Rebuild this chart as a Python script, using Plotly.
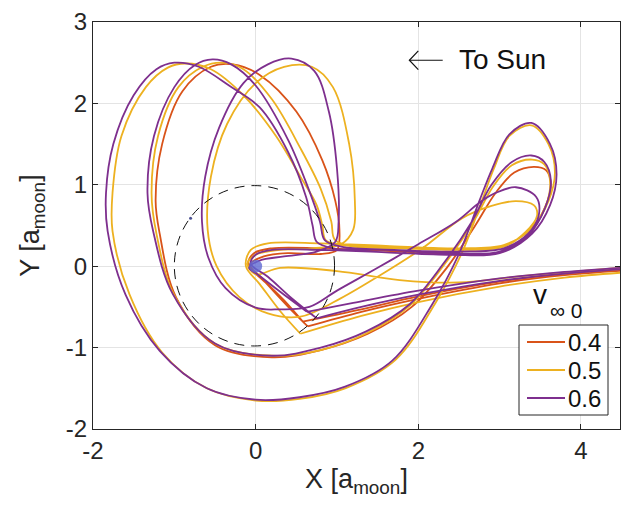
import plotly.graph_objects as go

# v_inf0 = 0.4 trajectory (None marks a sharp corner between smooth strokes)
x_v04 = [4.62, 3.8, 3.0, 2.0, 1.3, 0.64, None,
         0.64, 0.4, 0.12, -0.09, -0.02, 0.2, 0.8, 1.6, 2.4, 3.0, 3.33, 3.55, 3.63, 3.57, 3.42, 3.18,
         2.95, 2.7, 2.35, 1.92, 1.38, 0.8, 0.2, -0.5, -0.98, -1.18, -1.23, -1.15, -0.9, -0.55, -0.28,
         0.05, 0.5, 0.82, 0.98, 1.03, 1.0, 0.8, 0.4, 0.1, -0.07, 0.08, 0.35, 0.58, None,
         0.58, 1.3, 2.0, 3.0, 3.8, 4.62]
y_v04 = [-0.05, -0.11, -0.21, -0.4, -0.56, -0.74, None,
         -0.74, -0.5, -0.2, 0.02, 0.16, 0.22, 0.22, 0.19, 0.15, 0.17, 0.36, 0.7, 1.0, 1.18, 1.22, 1.15,
         0.9, 0.5, -0.02, -0.5, -0.83, -1.03, -1.12, -0.97, -0.38, 0.4, 0.8, 1.5, 2.15, 2.45, 2.48,
         2.35, 1.9, 1.3, 0.8, 0.45, 0.2, 0.15, 0.16, 0.12, 0.02, -0.15, -0.42, -0.68, None,
         -0.68, -0.53, -0.37, -0.19, -0.09, -0.03]

# v_inf0 = 0.5 trajectory
x_v05 = [4.62, 3.8, 3.0, 2.0, 1.3, 0.55, None,
         0.55, 0.3, 0.05, -0.12, -0.06, 0.15, 0.8, 1.6, 2.4, 3.0, 3.38, 3.6, 3.68, 3.6, 3.39, 3.12,
         2.93, 2.78, 2.53, 2.2, 1.72, 1.1, 0.54, 0.0, -0.6, -1.15, -1.55, -1.76, -1.76, -1.65, -1.35,
         -1.08, -0.86, -0.55, -0.15, 0.25, 0.55, 0.75, 0.82, 0.86, 1.05, 1.7, 2.5, 3.05, 3.37, 3.57,
         3.62, 3.55, 3.4, 3.15, 2.92, 2.68, 2.32, 1.9, 1.37, 0.8, 0.2, -0.5, -1.0, -1.22, -1.28, -1.2,
         -0.95, -0.65, -0.4, -0.15, 0.2, 0.55, 0.8, 0.93, 0.97, 1.15, 1.8, 2.5, 3.05, 3.32, 3.46,
         3.42, 3.2, 2.9, 2.54, 2.05, 1.5, 1.0, 0.55, 0.15, -0.2, -0.48, -0.59, -0.55, -0.35, 0.0,
         0.35, 0.69, 0.95, 1.15, 1.22, 1.2, 1.05, 0.7, 0.3, 0.0, -0.1, 0.0, 0.3, 1.0, 1.77, 2.5,
         3.3, 4.62]
y_v05 = [-0.07, -0.14, -0.25, -0.44, -0.61, -0.83, None,
         -0.83, -0.55, -0.22, 0.0, 0.2, 0.28, 0.28, 0.25, 0.22, 0.24, 0.45, 0.8, 1.15, 1.5, 1.73, 1.6,
         1.2, 0.8, 0.15, -0.47, -1.15, -1.5, -1.63, -1.65, -1.5, -1.06, -0.35, 0.43, 0.9, 1.6, 2.2,
         2.44, 2.49, 2.42, 2.1, 1.6, 1.1, 0.75, 0.5, 0.32, 0.26, 0.24, 0.22, 0.26, 0.45, 0.75,
         1.05, 1.25, 1.31, 1.24, 0.98, 0.55, 0.02, -0.48, -0.82, -1.03, -1.1, -0.95, -0.36, 0.4, 0.9, 1.6,
         2.2, 2.45, 2.5, 2.42, 2.05, 1.45, 0.95, 0.55, 0.33, 0.25, 0.22, 0.2, 0.24, 0.42, 0.62,
         0.75, 0.8, 0.74, 0.59, 0.22, -0.13, -0.42, -0.62, -0.58, -0.38, 0.0, 0.45, 1.1, 1.75, 2.25,
         2.45, 2.45, 2.2, 1.5, 0.8, 0.45, 0.27, 0.22, 0.2, 0.14, 0.03, -0.1, -0.02, -0.06, -0.17, -0.2,
         -0.12, -0.01]

# v_inf0 = 0.6 trajectory
x_v06 = [4.62, 3.8, 3.0, 2.0, 1.3, 0.75, None,
         0.75, 0.45, 0.15, -0.06, 0.0, 0.2, 0.8, 1.6, 2.4, 3.0, 3.4, 3.62, 3.7, 3.62, 3.39, 3.12,
         2.91, 2.75, 2.5, 2.17, 1.68, 1.1, 0.54, 0.0, -0.6, -1.18, -1.6, -1.82, -1.84, -1.75, -1.5,
         -1.22, -1.0, -0.7, -0.3, 0.05, 0.4, 0.62, 0.7, 0.75, 0.95, 1.6, 2.4, 3.0, 3.35, 3.56, 3.63,
         3.55, 3.39, 3.15, 2.9, 2.66, 2.3, 1.89, 1.36, 0.8, 0.2, -0.5, -1.02, -1.26, -1.33, -1.25,
         -1.0, -0.75, -0.53, -0.3, 0.0, 0.4, 0.65, 0.79, 0.85, 1.05, 1.7, 2.5, 3.05, 3.35, 3.48,
         3.45, 3.2, 2.95, 2.75, 2.47, 2.0, 1.5, 1.0, 0.66, 0.3, 0.0, -0.37, -0.58, -0.66, -0.62,
         -0.45, -0.15, 0.15, 0.44, 0.72, 0.9, 1.0, 1.02, 0.98, 0.75, 0.35, 0.05, -0.08, 0.05, 0.35,
         0.63, None,
         0.63, 1.2, 2.0, 3.0, 3.8, 4.62]
y_v06 = [-0.03, -0.09, -0.18, -0.35, -0.5, -0.64, None,
         -0.64, -0.4, -0.13, 0.03, 0.14, 0.2, 0.2, 0.17, 0.14, 0.16, 0.4, 0.75, 1.13, 1.5, 1.76, 1.62,
         1.2, 0.8, 0.15, -0.47, -1.16, -1.48, -1.61, -1.64, -1.5, -1.04, -0.35, 0.43, 0.9, 1.5, 2.1,
         2.42, 2.5, 2.45, 2.2, 1.95, 1.4, 0.85, 0.5, 0.3, 0.22, 0.2, 0.16, 0.18, 0.38, 0.72, 1.05,
         1.28, 1.36, 1.28, 1.0, 0.55, 0.02, -0.47, -0.8, -1.0, -1.1, -0.95, -0.34, 0.43, 0.9, 1.6,
         2.2, 2.47, 2.54, 2.48, 2.22, 1.55, 0.95, 0.55, 0.32, 0.24, 0.2, 0.18, 0.22, 0.4, 0.62,
         0.85, 0.97, 0.9, 0.78, 0.55, 0.27, -0.02, -0.3, -0.5, -0.53, -0.51, -0.27, 0.1, 0.55, 1.1,
         1.7, 2.25, 2.48, 2.55, 2.4, 1.9, 1.2, 0.55, 0.3, 0.18, 0.12, 0.07, -0.02, -0.12, -0.35,
         -0.56, None,
         -0.56, -0.45, -0.3, -0.15, -0.07, -0.01]

series = [
    ("0.4", x_v04, y_v04, "#D95319"),
    ("0.5", x_v05, y_v05, "#EDB120"),
    ("0.6", x_v06, y_v06, "#7E2F8E"),
]

x_ticks = [-2, 0, 2, 4]
x_tick_text = ["-2", "0", "2", "4"]
y_ticks = [-2, -1, 0, 1, 2, 3]
y_tick_text = ["-2", "-1", "0", "1", "2", "3"]

moon_x, moon_y = [0.0], [0.0]
speck_x, speck_y = [-0.8], [0.59]

FONT = "Liberation Sans, Arial, sans-serif"
INK = "#262626"

# plot area in pixels (used to place the boxed legend in paper units)
L, R, T, B = 93, 620, 22, 429


def px(xp):
    return (xp - L) / (R - L)


def py(yp):
    return (B - yp) / (B - T)


fig = go.Figure()
for name, xs, ys, col in series:
    fig.add_trace(go.Scatter(
        x=xs, y=ys, mode="lines", name=name, showlegend=False,
        line=dict(color=col, width=1.8, shape="spline", smoothing=1.0),
        connectgaps=False,
    ))

fig.add_trace(go.Scatter(x=moon_x, y=moon_y, mode="markers", showlegend=False,
                         marker=dict(size=13, color="rgba(95,105,210,0.8)", line=dict(width=0))))
fig.add_trace(go.Scatter(x=speck_x, y=speck_y, mode="markers", showlegend=False,
                         marker=dict(size=3, color="#4a5090", line=dict(width=0))))

# lunar orbit (dashed)
fig.add_shape(type="circle", xref="x", yref="y", x0=-1.0, x1=0.97, y0=-0.98, y1=0.99,
              line=dict(color="#111111", width=1, dash="10px,7px"), layer="above")

# sun-direction arrow: shaft plus an open chevron head, then the label
fig.add_shape(type="line", xref="x", yref="y", x0=1.89, x1=2.3, y0=2.53, y1=2.53,
              line=dict(color="#111", width=1.2))
fig.add_shape(type="path", xref="x", yref="y", path="M 2.0,2.645 L 1.89,2.53 L 2.0,2.415",
              line=dict(color="#111", width=1.2))
fig.add_annotation(x=2.47, y=2.54, xref="x", yref="y", text="To Sun", showarrow=False,
                   xanchor="left", yanchor="middle", font=dict(family=FONT, size=28, color="#111"))

# boxed legend: frame, line samples and labels
fig.add_shape(type="rect", xref="paper", yref="paper", x0=px(519), x1=px(608), y0=py(415), y1=py(325),
              line=dict(color=INK, width=1), fillcolor="white", layer="above")
row_y = [342, 370, 398]
for (name, _, _, col), yr in zip(series, row_y):
    fig.add_shape(type="line", xref="paper", yref="paper", x0=px(527), x1=px(565), y0=py(yr), y1=py(yr),
                  line=dict(color=col, width=2), layer="above")
    fig.add_annotation(x=px(566), y=py(yr), xref="paper", yref="paper", text=name, showarrow=False,
                       xanchor="left", yanchor="middle", font=dict(family=FONT, size=24, color="#111"))

# legend title above the box: v with the subscript "inf 0"
fig.add_annotation(x=px(531), y=py(294), xref="paper", yref="paper", text="v", showarrow=False,
                   xanchor="left", yanchor="middle", font=dict(family=FONT, size=28, color="#111"))
fig.add_annotation(x=px(548), y=py(310), xref="paper", yref="paper", text="\u221e 0", showarrow=False,
                   xanchor="left", yanchor="middle", font=dict(family=FONT, size=21, color="#111"))

fig.update_layout(
    width=621, height=506,
    margin=dict(l=L, r=621 - R, t=T, b=506 - B),
    paper_bgcolor="white", plot_bgcolor="white",
    font=dict(family=FONT, color=INK),
    showlegend=False,
    xaxis=dict(range=[-2, 4.48], tickvals=x_ticks, ticktext=x_tick_text,
               ticks="inside", ticklen=5, tickcolor=INK, showline=True, linecolor=INK,
               linewidth=1, mirror="ticks", showgrid=True, gridcolor="#e4e4e4", zeroline=False,
               tickfont=dict(size=24, color=INK),
               title=dict(text="X [a<sub>moon</sub>]", font=dict(size=27, color=INK), standoff=6)),
    yaxis=dict(range=[-2, 3], tickvals=y_ticks, ticktext=y_tick_text,
               ticks="inside", ticklen=5, tickcolor=INK, showline=True, linecolor=INK,
               linewidth=1, mirror="ticks", showgrid=True, gridcolor="#e4e4e4", zeroline=False,
               tickfont=dict(size=24, color=INK),
               title=dict(text="Y [a<sub>moon</sub>]", font=dict(size=27, color=INK), standoff=18)),
)

fig.write_html("out.html")
